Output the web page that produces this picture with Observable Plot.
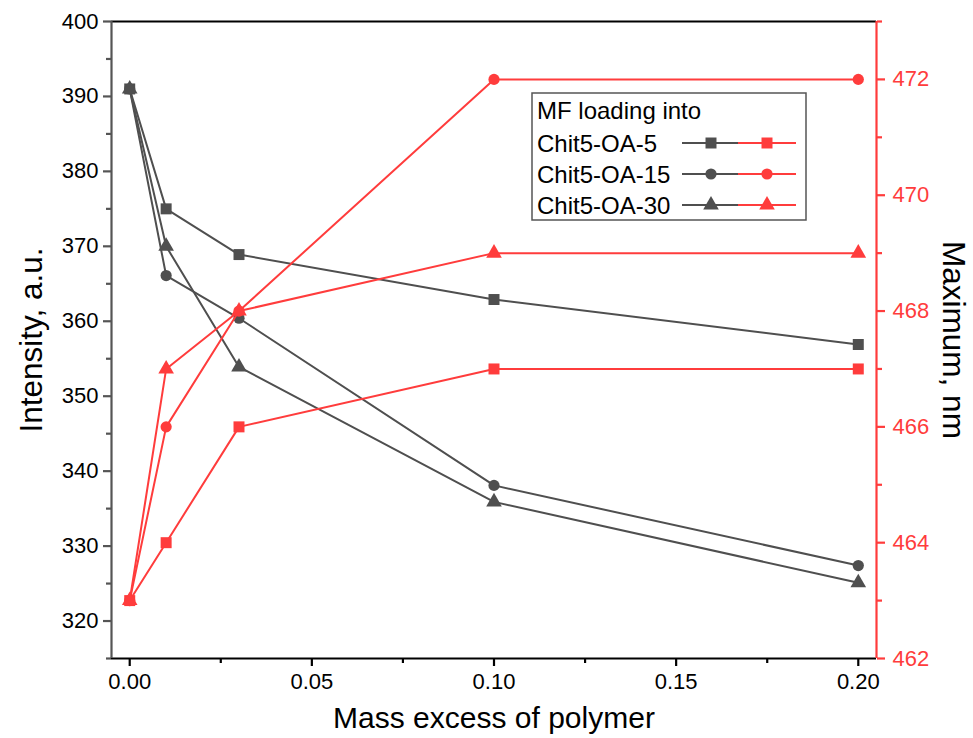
<!DOCTYPE html>
<html><head><meta charset="utf-8">
<script src="https://cdn.jsdelivr.net/npm/d3@7"></script>
<script src="https://cdn.jsdelivr.net/npm/@observablehq/plot@0.6"></script>
<style>body{margin:0;background:#fff;font-family:"Liberation Sans",Arial,sans-serif}
g[aria-label$="tick"], g[aria-label$="tick"] path { stroke-width: 2.2px !important; stroke-opacity: 1 !important; }
</style>
</head><body><div id="chart"></div>
<script>
// ---- data ----
const massExcess = [0, 0.01, 0.03, 0.10, 0.20];
const seriesNames = ["Chit5-OA-5", "Chit5-OA-15", "Chit5-OA-30"];
const seriesSymbols = ["square", "circle", "triangle"];
const intensity5 = [391, 375, 368.9, 362.9, 356.9];
const intensity15 = [391, 366.1, 360.4, 338.1, 327.4];
const intensity30 = [391, 370, 353.9, 335.9, 325.1];
const maximum5 = [463, 464, 466, 467, 467];
const maximum15 = [463, 466, 468, 472, 472];
const maximum30 = [463, 467, 468, 469, 469];
const xTicks = [0, 0.05, 0.10, 0.15, 0.20];
const xMinorTicks = [0.025, 0.075, 0.125, 0.175];
const leftTicks = [320, 330, 340, 350, 360, 370, 380, 390, 400];
const leftMinorTicks = [315, 325, 335, 345, 355, 365, 375, 385, 395];
const rightTicks = [462, 464, 466, 468, 470, 472];
const rightMinorTicks = [463, 465, 467, 469, 471, 473];
const xDomain = [-0.005, 0.205];
const leftDomain = [315, 400];
const rightDomain = [462, 473];
const legendTitle = "MF loading into";
const xLabel = "Mass excess of polymer";
const leftLabel = "Intensity, a.u.";
const rightLabel = "Maximum, nm";

// ---- styles ----
const GRAY = "#4f4f4f";
const RED = "#ff3c3c";
const FONT = '"Liberation Sans", Arial, sans-serif';
const symbolR = {square: 6.2, circle: 5.6, triangle: 5.8};

const toLeft = d3.scaleLinear().domain(rightDomain).range(leftDomain);
const intensities = [intensity5, intensity15, intensity30];
const maxima = [maximum5, maximum15, maximum30];

const grayRows = [], redRows = [];
seriesNames.forEach((s, i) => {
  massExcess.forEach((x, j) => {
    grayRows.push({series: s, sym: seriesSymbols[i], x, y: intensities[i][j]});
    redRows.push({series: s, sym: seriesSymbols[i], x, y: toLeft(maxima[i][j])});
  });
});

const dotMarks = (rows, color) => seriesSymbols.map(sym =>
  Plot.dot(rows.filter(d => d.sym === sym), {x: "x", y: "y", symbol: sym, r: symbolR[sym], fill: color, stroke: "none"}));

const chart = Plot.plot({
  width: 973, height: 738,
  marginLeft: 111, marginRight: 97, marginTop: 21, marginBottom: 80,
  style: {fontFamily: FONT, background: "white", fontSize: "22px"},
  x: {domain: xDomain, label: null},
  y: {domain: leftDomain, label: null},
  marks: [
    Plot.axisX({ticks: xTicks, tickFormat: d3.format(".2f"), tickSize: 8, tickPadding: 7, fontSize: 22, stroke: "black", fill: "black", strokeWidth: 2.2, label: null}),
    Plot.axisX({ticks: xMinorTicks, tickFormat: () => "", tickSize: 5, stroke: "black", strokeWidth: 2.2, label: null}),
    Plot.axisY({ticks: leftTicks, tickSize: 8, tickPadding: 5, fontSize: 22, stroke: "#555", fill: "black", strokeWidth: 2.2, label: null}),
    Plot.axisY({ticks: leftMinorTicks, tickFormat: () => "", tickSize: 5, stroke: "#555", strokeWidth: 2.2, label: null}),
    Plot.axisY({anchor: "right", ticks: rightTicks.map(toLeft), tickFormat: d => String(Math.round(toLeft.invert(d))), tickSize: 8, tickPadding: 8, fontSize: 22, stroke: RED, fill: RED, strokeWidth: 2.2, label: null}),
    Plot.axisY({anchor: "right", ticks: rightMinorTicks.map(toLeft), tickFormat: () => "", tickSize: 5, stroke: RED, strokeWidth: 2.2, label: null}),
    Plot.ruleY([leftDomain[1]], {stroke: "black", strokeWidth: 1.8}),
    Plot.ruleY([leftDomain[0]], {stroke: "black", strokeWidth: 2.2}),
    Plot.ruleX([xDomain[0]], {stroke: "#555", strokeWidth: 2.2}),
    Plot.ruleX([xDomain[1]], {stroke: RED, strokeWidth: 2.2}),
    Plot.line(grayRows, {x: "x", y: "y", z: "series", stroke: GRAY, strokeWidth: 2}),
    ...dotMarks(grayRows, GRAY),
    Plot.line(redRows, {x: "x", y: "y", z: "series", stroke: RED, strokeWidth: 2}),
    ...dotMarks(redRows, RED),
    Plot.text([leftLabel], {frameAnchor: "left", dx: -80, rotate: -90, textAnchor: "middle", lineAnchor: "middle", fontSize: 31.5, fill: "black"}),
    Plot.text([rightLabel], {frameAnchor: "right", dx: 77, rotate: 90, textAnchor: "middle", lineAnchor: "middle", fontSize: 31.5, fill: "black"}),
    Plot.text([xLabel], {frameAnchor: "bottom", dy: 60, textAnchor: "middle", lineAnchor: "middle", fontSize: 30, fill: "black"})
  ]
});
document.getElementById("chart").appendChild(chart);

const svg = d3.select(chart);
svg.selectAll('g[aria-label$="tick"]').attr("stroke-width", 2.2);
svg.selectAll('g[aria-label$="tick"] path').attr("stroke-width", 2.2);

// ---- legend (drawn into the same SVG) ----
const lg = svg.append("g").attr("font-family", FONT).attr("text-anchor", "start");
lg.append("rect").attr("x", 532).attr("y", 93).attr("width", 274).attr("height", 127)
  .attr("fill", "white").attr("stroke", "#555").attr("stroke-width", 1.5);
lg.append("text").attr("x", 537).attr("y", 119).attr("font-size", 24).attr("fill", "black").attr("text-anchor", "start").text(legendTitle);
const symGen = {square: d3.symbolSquare, circle: d3.symbolCircle, triangle: d3.symbolTriangle};
seriesNames.forEach((s, i) => {
  const yc = 143 + i * 31;
  lg.append("text").attr("x", 537).attr("y", yc + 9).attr("font-size", 24).attr("fill", "black").attr("text-anchor", "start").text(s);
  lg.append("line").attr("x1", 682).attr("x2", 738).attr("y1", yc).attr("y2", yc).attr("stroke", GRAY).attr("stroke-width", 2);
  lg.append("line").attr("x1", 738).attr("x2", 796).attr("y1", yc).attr("y2", yc).attr("stroke", RED).attr("stroke-width", 2);
  const sym = seriesSymbols[i];
  const r = symbolR[sym];
  const path = d3.symbol(symGen[sym], Math.PI * r * r)();
  lg.append("path").attr("d", path).attr("transform", `translate(711,${yc})`).attr("fill", GRAY);
  lg.append("path").attr("d", path).attr("transform", `translate(767,${yc})`).attr("fill", RED);
});
</script>
</body></html>
